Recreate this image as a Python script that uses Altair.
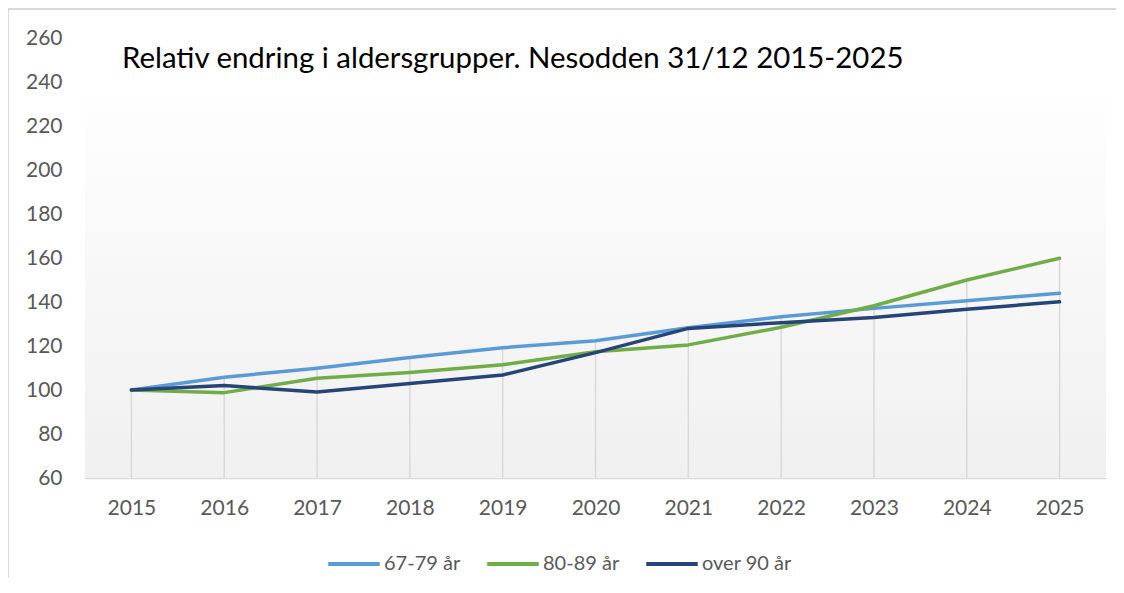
import altair as alt
import pandas as pd

years = [2015, 2016, 2017, 2018, 2019, 2020, 2021, 2022, 2023, 2024, 2025]
s_67_79 = [100, 105.8, 109.9, 114.8, 119.2, 122.4, 128.3, 133.3, 137.1, 140.6, 144.0]
s_80_89 = [100, 98.8, 105.3, 108.0, 111.5, 117.4, 120.5, 128.5, 138.3, 150.0, 159.9]
s_90 = [100, 102.0, 99.1, 103.0, 106.8, 117.0, 128.0, 130.6, 133.0, 136.7, 140.1]
series_names = ["67-79 år", "80-89 år", "over 90 år"]
series_colors = ["#5B9BD5", "#70AD47", "#264478"]
title_text = "Relativ endring i aldersgrupper. Nesodden 31/12 2015-2025"
y_ticks = [60, 80, 100, 120, 140, 160, 180, 200, 220, 240, 260]

rows = []
for name, vals in zip(series_names, [s_67_79, s_80_89, s_90]):
    for y, v in zip(years, vals):
        rows.append({"year": str(y), "serie": name, "value": v})
df = pd.DataFrame(rows)

drop = df.groupby("year", as_index=False)["value"].max()
drop["base"] = 60

W, H = 1021, 440
FONT = "Lato"

x_enc = alt.X("year:O", scale=alt.Scale(type="point", padding=0.5),
              axis=alt.Axis(title=None, labelAngle=0, ticks=False, grid=False,
                            domainColor="#d9d9d9", domainWidth=1.5,
                            labelColor="#595959", labelFontSize=21, labelFont=FONT,
                            labelPadding=19))
y_scale = alt.Scale(domain=[60, 260], nice=False, zero=False)

bg = alt.Chart(pd.DataFrame({"a": [0]})).mark_rect(
    fill=alt.LinearGradient(gradient="linear", x1=0, y1=0, x2=0, y2=1,
                            stops=[alt.GradientStop(color="#ffffff", offset=0),
                                   alt.GradientStop(color="#f0f0f0", offset=1)])
).encode(x=alt.value(0), x2=alt.value(W), y=alt.value(38), y2=alt.value(H))

frame_top = alt.Chart(pd.DataFrame({"a": [0]})).mark_rule(color="#d9d9d9", strokeWidth=2, clip=False).encode(
    x=alt.value(-77), x2=alt.value(W + 40), y=alt.value(-29))
frame_left = alt.Chart(pd.DataFrame({"a": [0]})).mark_rule(color="#d9d9d9", strokeWidth=2, clip=False).encode(
    x=alt.value(-77), y=alt.value(-29), y2=alt.value(H + 140))

drops = alt.Chart(drop).mark_rule(color="#d9d9d9", strokeWidth=1.5).encode(
    x=x_enc,
    y=alt.Y("base:Q", scale=y_scale,
            axis=alt.Axis(title=None, values=y_ticks, ticks=False, grid=False, domain=False,
                          labelColor="#595959", labelFontSize=21, labelFont=FONT,
                          labelPadding=23)),
    y2="value:Q",
)

lines = alt.Chart(df).mark_line(strokeWidth=3.5, strokeCap="round", strokeJoin="round").encode(
    x=x_enc,
    y=alt.Y("value:Q", scale=y_scale),
    color=alt.Color("serie:N", sort=series_names,
                    scale=alt.Scale(domain=series_names, range=series_colors),
                    legend=alt.Legend(title=None, orient="none", direction="horizontal",
                                      legendX=241, legendY=498,
                                      symbolType="stroke", symbolSize=2650,
                                      symbolStrokeWidth=4, labelFontSize=20,
                                      labelFont=FONT, labelColor="#595959",
                                      labelOffset=2, columnPadding=18)),
    order=alt.Order("year:O"),
)

title = alt.Chart(pd.DataFrame({"t": [title_text]})).mark_text(
    align="left", baseline="alphabetic", fontSize=29.4, font=FONT, color="#000000", clip=False
).encode(x=alt.value(37), y=alt.value(30), text="t:N")

chart = alt.layer(bg, frame_top, frame_left, drops, lines, title).properties(
    width=W, height=H,
    autosize=alt.AutoSizeParams(type="none"),
    padding={"left": 77, "top": 30, "right": 10, "bottom": 100},
).configure_view(stroke=None)

chart.save("out.html", embed_options={"renderer": "svg", "actions": False})
